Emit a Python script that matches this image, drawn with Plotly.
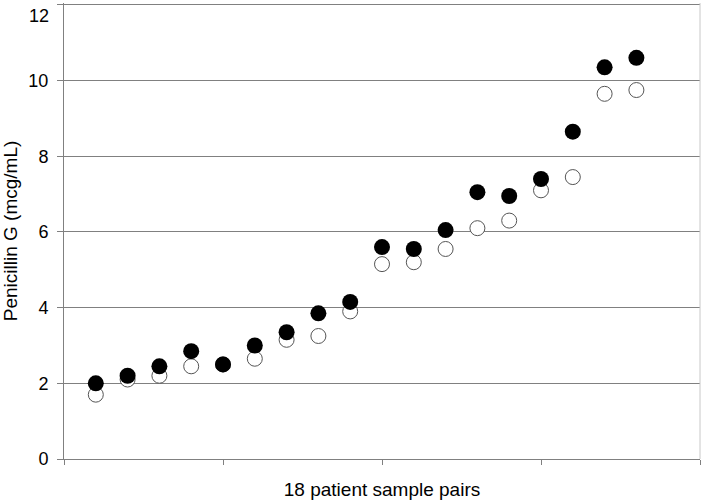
import plotly.graph_objects as go

pairs = list(range(1, 19))
filled_vals = [2.0, 2.2, 2.45, 2.85, 2.5, 3.0, 3.35, 3.85, 4.15, 5.6, 5.55, 6.05, 7.05, 6.95, 7.4, 8.65, 10.35, 10.6]
open_vals = [1.7, 2.1, 2.2, 2.45, 2.5, 2.65, 3.15, 3.25, 3.9, 5.15, 5.2, 5.55, 6.1, 6.3, 7.1, 7.45, 9.65, 9.75]
y_ticks = [0, 2, 4, 6, 8, 10, 12]
x_ticks = [0, 5, 10, 15, 20]

fig = go.Figure()
fig.add_trace(go.Scatter(x=pairs, y=open_vals, mode="markers",
                         marker=dict(size=15, color="white", line=dict(color="#555555", width=1)),
                         showlegend=False, cliponaxis=False, hoverinfo="skip"))
fig.add_trace(go.Scatter(x=pairs, y=filled_vals, mode="markers",
                         marker=dict(size=16, color="black", line=dict(width=0)),
                         showlegend=False, cliponaxis=False, hoverinfo="skip"))

# top tick label sits just below the top gridline (as in the reference), so draw it as an annotation
y_ticktext = [str(v) for v in y_ticks[:-1]] + [""]

fig.update_layout(
    width=706, height=502,
    margin=dict(l=64, r=6, t=3, b=43, autoexpand=False),
    paper_bgcolor="white", plot_bgcolor="white",
    font=dict(family="Liberation Sans, Arial, sans-serif", color="black"),
    xaxis=dict(range=[0, 20], tickvals=x_ticks, ticktext=[""] * len(x_ticks),
               ticks="outside", ticklen=5, tickcolor="#808080",
               showgrid=False, zeroline=False, showline=True, linecolor="#808080", linewidth=1,
               title=dict(text="18 patient sample pairs", font=dict(size=19), standoff=16)),
    yaxis=dict(range=[0, 12.05], tickvals=y_ticks, ticktext=y_ticktext,
               ticks="outside", ticklen=6, tickcolor="#808080",
               showgrid=True, gridcolor="#808080", gridwidth=1, zeroline=False,
               showline=True, linecolor="#808080", linewidth=1,
               tickfont=dict(size=18), ticklabelstandoff=5,
               title=dict(text="Penicillin G (mcg/mL)", font=dict(size=19), standoff=10)),
    shapes=[dict(type="line", xref="paper", yref="paper", x0=1, x1=1, y0=0, y1=1,
                 line=dict(color="#c8c8c8", width=1))],
    annotations=[dict(text=str(y_ticks[-1]), xref="paper", yref="y", x=0, y=y_ticks[-1],
                      xanchor="right", yanchor="top", xshift=-13, yshift=1,
                      showarrow=False, font=dict(size=18))],
)

fig.write_html("out.html", config={"displayModeBar": False},
               post_script="document.body.style.margin='0';document.body.style.padding='0';")
